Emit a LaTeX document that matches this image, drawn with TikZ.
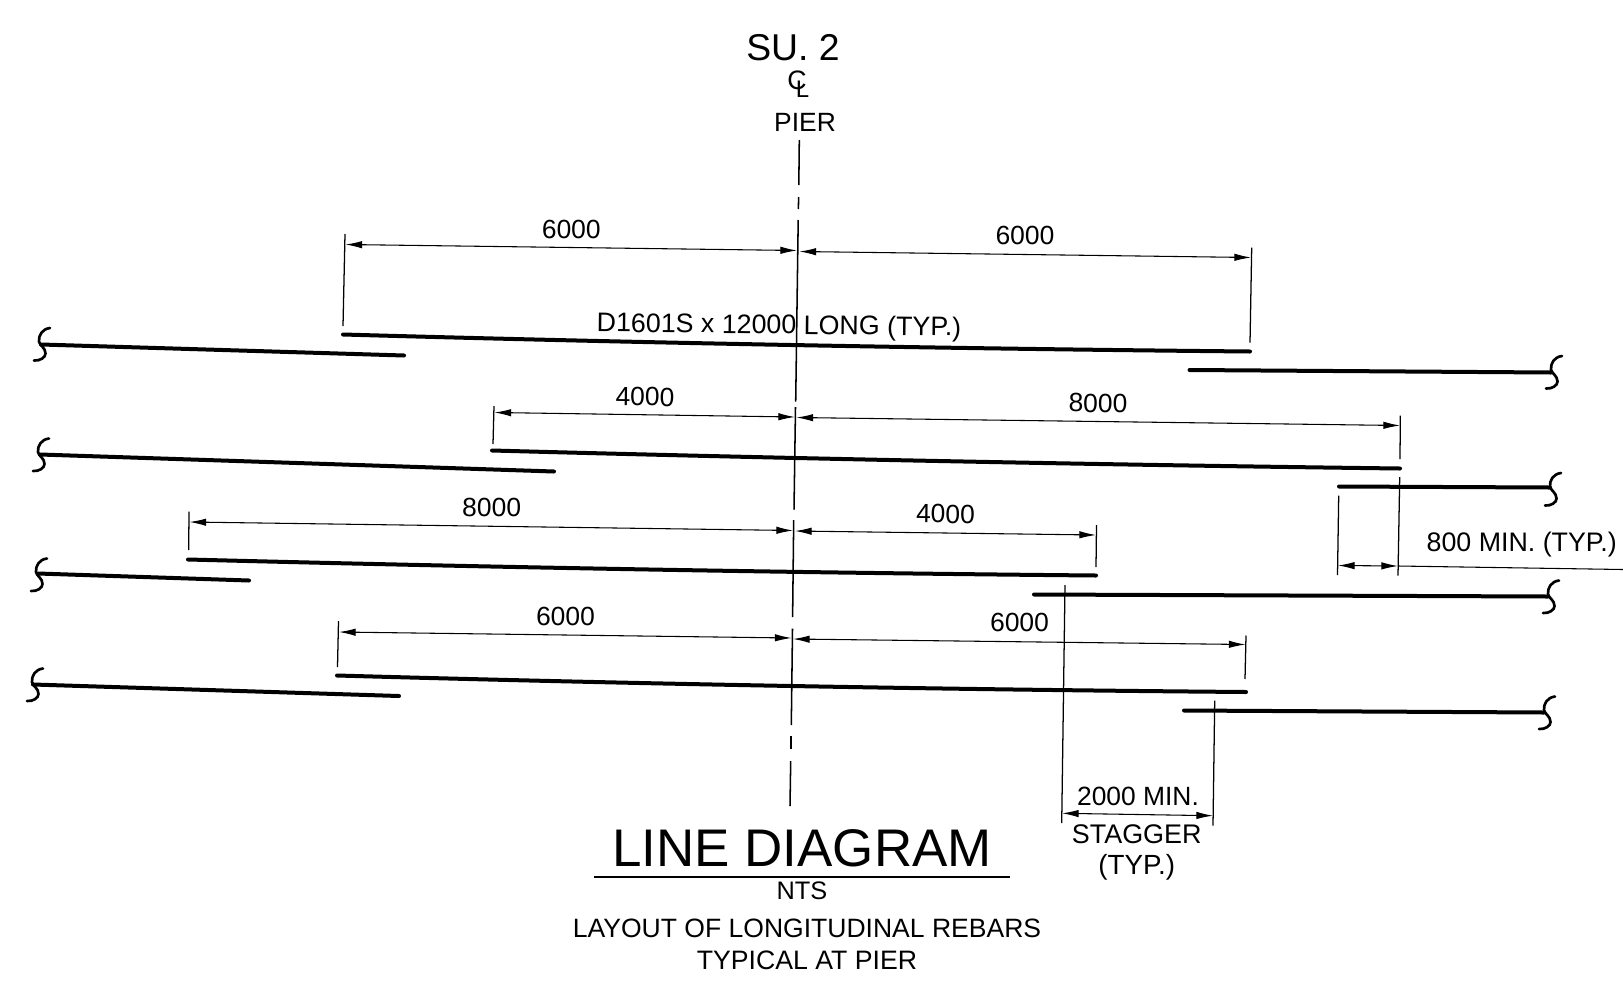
\documentclass[tikz,border=0pt]{standalone}
\usepackage{fontspec}
\setmainfont{Liberation Sans}
\usetikzlibrary{arrows.meta}
\tikzset{
  bar/.style={line width=3pt,line cap=round,black},
  thin ext/.style={line width=0.95pt,black},
  centre/.style={line width=1.15pt,black},
  dimline/.style={line width=0.8pt,black,{Latex[length=12.5pt,width=5.6pt]}-{Latex[length=12.5pt,width=5.6pt]}},
  lbl/.style={font=\fontsize{19.8pt}{22pt}\selectfont,inner sep=0pt,text=black},
  dimlbl/.style={lbl,rotate=-0.7},
  pics/squig/.style={code={
    \draw[line width=2pt,line cap=round] (8,-16.5) .. controls (0,-15.5) and (-3.5,-9) .. (-3,-3)
      .. controls (-2.5,1) and (3.5,3) .. (3.5,9) .. controls (3.5,13) and (-2,16.5) .. (-8,16);
  }}
}
\begin{document}
\begin{tikzpicture}[x=0.75pt,y=-0.75pt]
\useasboundingbox (0,0) rectangle (1623,989);
% centre line
\draw[centre] (799.3,140) -- (798.8,185);
\draw[centre] (798.6,197) -- (798.4,209);
\draw[centre] (798.2,220) -- (795.7,401.5);
\draw[centre] (795.5,407) -- (794,509.5);
\draw[centre] (793.7,520) -- (792.6,617);
\draw[centre] (792.5,628.5) -- (791.3,725);
\draw[centre] (791,736) -- (791,749);
\draw[centre] (790.7,761) -- (790,806);
% rebars
\draw[bar] (41,344.5) -- (404,355.5);
\draw[bar] (343,334.5) .. controls (645,343) and (948,348.6) .. (1250,351.5);
\draw[bar] (1189.5,370) -- (1551,372.5);
\draw[bar] (40,454.5) -- (554,471.5);
\draw[bar] (492,450.5) .. controls (795,458.7) and (1097,464.7) .. (1400,468.5);
\draw[bar] (1339,486.5) -- (1550,487.5);
\draw[bar] (38,573.5) -- (249,580.5);
\draw[bar] (188,559.5) .. controls (491,567.3) and (793,572.7) .. (1096,575.5);
\draw[bar] (1034,594.5) -- (1548,596.5);
\draw[bar] (33,684.5) -- (399,696);
\draw[bar] (337,675.5) .. controls (640,684) and (943,689.5) .. (1246,692);
\draw[bar] (1184,710.5) -- (1544,712.5);
% break marks
\pic at (42,344.5) {squig};
\pic at (41,455) {squig};
\pic at (39,575) {squig};
\pic at (35,685) {squig};
\pic at (1554,372.5) {squig};
\pic at (1553,489.5) {squig};
\pic at (1551,597) {squig};
\pic at (1547,713) {squig};
% extension lines
\draw[thin ext] (345,234) -- (343,326);
\draw[thin ext] (1251.7,247.7) -- (1250,342.7);
\draw[thin ext] (494,406) -- (493,444);
\draw[thin ext] (1400.3,415.7) -- (1400,459);
\draw[thin ext] (1399.7,477) -- (1398,575.7);
\draw[thin ext] (189,511.7) -- (188.7,550);
\draw[thin ext] (1096.5,525) -- (1096,567);
\draw[thin ext] (338.5,621) -- (337.5,667);
\draw[thin ext] (1246,635.5) -- (1245,679);
\draw[thin ext] (1338.7,495.7) -- (1337.5,575);
\draw[thin ext] (1065,585) -- (1061.7,823);
\draw[thin ext] (1214.7,700.7) -- (1213,825.7);
% dimension lines
\draw[dimline] (345.5,244.5) -- (797,250.5);
\draw[dimline] (799.5,251.5) -- (1251,257.5);
\draw[dimline] (494.5,412.5) -- (795,417);
\draw[dimline] (796.5,417.5) -- (1400,425.5);
\draw[dimline] (189.5,522) -- (793,530.5);
\draw[dimline] (795,531) -- (1096,535);
\draw[dimline] (339,632) -- (791.5,638);
\draw[dimline] (793,639) -- (1245.5,644.5);
\draw[dimline] (1338,565.5) -- (1398,566);
\draw[dimline] (1062,813.3) -- (1213,815.7);
\coordinate (leadStart) at (1398,566);
\coordinate (leadEnd) at (1623,569.5);
\draw[line width=0.8pt] (leadStart) -- (leadEnd);
% labels
\node[lbl,font=\fontsize{28pt}{30pt}\selectfont] (su) at (793,48) {SU. 2};
\node[lbl,font=\fontsize{20pt}{22pt}\selectfont] (clc) at (797,80) {C};
\node[lbl,font=\fontsize{18pt}{20pt}\selectfont] (cll) at (802.5,89.5) {L};
\node[lbl] (pier) at (805,122.5) {PIER};
\node[dimlbl] (a1) at (571.3,229.5) {6000};
\node[dimlbl] (a2) at (1025,235.5) {6000};
\node[lbl,font=\fontsize{20.1pt}{22pt}\selectfont,rotate=-0.7] (bar) at (779,327) {D1601S x 12000 LONG (TYP.)};
\node[dimlbl] (b1) at (645,396.8) {4000};
\node[dimlbl] (b2) at (1098,403.2) {8000};
\node[dimlbl] (c1) at (491.7,507.5) {8000};
\node[dimlbl] (c2) at (945.5,514) {4000};
\node[dimlbl] (d1) at (565.5,616.5) {6000};
\node[dimlbl] (d2) at (1019.6,622.5) {6000};
\node[lbl,font=\fontsize{20.1pt}{22pt}\selectfont] (lap) at (1521.7,545) {800 MIN. (TYP.)};
\node[lbl] (st1) at (1138,796) {2000 MIN.};
\node[lbl,font=\fontsize{20.2pt}{22pt}\selectfont] (st2) at (1136.7,834) {STAGGER};
\node[lbl,font=\fontsize{20.8pt}{22pt}\selectfont] (st3) at (1136.7,867.5) {(TYP.)};
\node[lbl,font=\fontsize{39.7pt}{42pt}\selectfont] (title) at (802,848) {LINE DIAGRAM};
\coordinate (ulL) at (594,876.7);
\coordinate (ulR) at (1010,876.7);
\draw[line width=1.4pt] (ulL) -- (ulR);
\node[lbl,font=\fontsize{19pt}{22pt}\selectfont] (nts) at (802,890.5) {NTS};
\node[lbl,font=\fontsize{19.9pt}{22pt}\selectfont] (sub1) at (807,928.5) {LAYOUT OF LONGITUDINAL REBARS};
\node[lbl,font=\fontsize{20pt}{22pt}\selectfont] (sub2) at (807,960.5) {TYPICAL AT PIER};
\end{tikzpicture}
\end{document}
